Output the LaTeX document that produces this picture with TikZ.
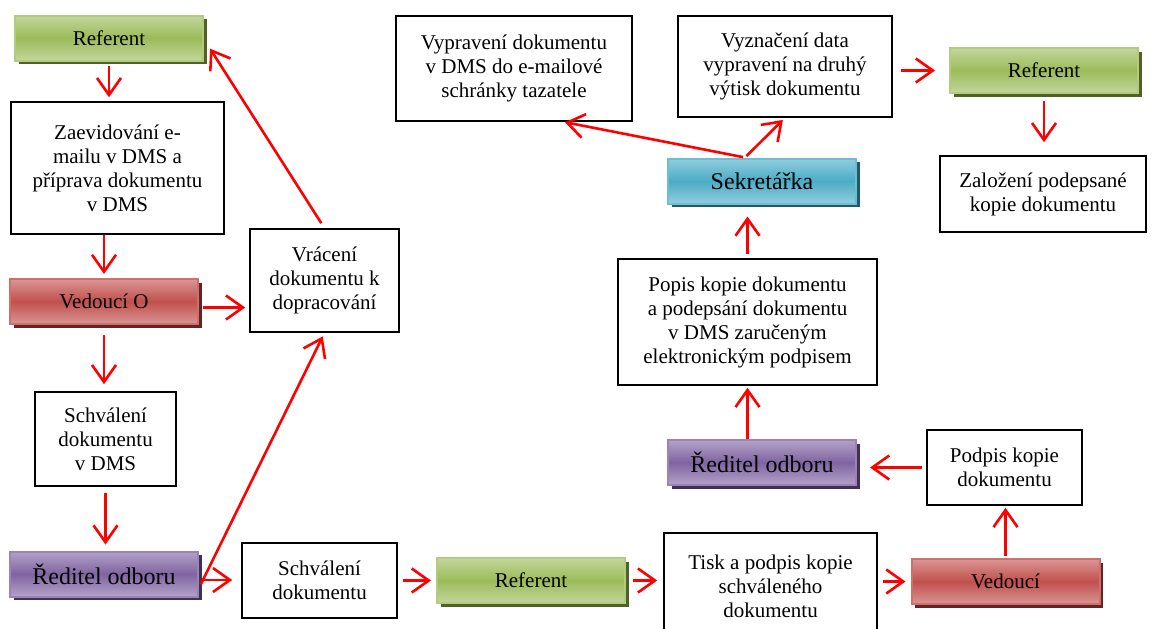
\documentclass[tikz,border=0pt]{standalone}
\usepackage{fontspec}
\setmainfont{Liberation Serif}
\usepackage{tikz}
\usetikzlibrary{arrows.meta}
\usetikzlibrary{shadows}

\definecolor{refmid}{HTML}{9BBB59}
\definecolor{reflight}{HTML}{C3D69B}
\definecolor{refedge}{HTML}{B2CB7F}
\definecolor{refdark}{HTML}{4F6228}
\definecolor{vedmid}{HTML}{C0504D}
\definecolor{vedlight}{HTML}{DA9694}
\definecolor{vededge}{HTML}{CD6F6C}
\definecolor{veddark}{HTML}{632523}
\definecolor{redmid}{HTML}{8064A2}
\definecolor{redlight}{HTML}{B3A2C7}
\definecolor{rededge}{HTML}{9A83B7}
\definecolor{reddark}{HTML}{403152}
\definecolor{sekmid}{HTML}{4BACC6}
\definecolor{seklight}{HTML}{92CDDC}
\definecolor{sekedge}{HTML}{6DBED3}
\definecolor{sekdark}{HTML}{215968}

\begin{document}
\begin{tikzpicture}[x=0.5pt,y=-0.5pt,
    role/.style={draw=#1edge,line width=1pt,top color=#1light,bottom color=#1light,
        middle color=#1mid,drop shadow={shadow xshift=1.8pt,shadow yshift=-1.8pt,fill=#1dark,opacity=1},
        minimum width=94pt,minimum height=22.5pt,inner sep=0pt,font=\fontsize{10.5}{12}\selectfont}]
            \tikzstyle{box}=[draw,line width=0.8pt,align=center,inner sep=1pt,font=\fontsize{10.5}{12}\selectfont]
            \tikzstyle{big}=[font=\fontsize{12}{14}\selectfont]
            \tikzstyle{flow}=[draw=red,line width=1.3pt,-{Straight Barb[length=8.5pt,width=12pt,line width=1.3pt]},shorten <=2pt,shorten >=2pt]
            \useasboundingbox (0,0) rectangle (1156,628);

            % left column
            \node[role=ref] (ref1) at (109,38) {Referent};
            \node[box,minimum width=106.5pt,minimum height=66pt] (zaev) at (117.5,168)
                {Zaevidování e-\\mailu v DMS a\\příprava dokumentu\\v DMS};
            \node[role=ved] (ved1) at (104,301.5) {Vedoucí O};
            \node[box,minimum width=74.5pt,minimum height=51.5pt] (vrac) at (324.5,280.5)
                {Vrácení\\dokumentu k\\dopracování};
            \node[box,minimum width=70.5pt,minimum height=47pt] (schv1) at (105.5,439)
                {Schválení\\dokumentu\\v DMS};
            \node[role=red,big] (red1) at (104,574) {Ředitel odboru};

            % bottom row
            \node[box,minimum width=77.5pt,minimum height=37.5pt] (schv2) at (319.5,580.5)
                {Schválení\\dokumentu};
            \node[role=ref] (ref2) at (531,580.5) {Referent};
            \node[box,minimum width=106.5pt,minimum height=53.5pt] (tisk) at (770.5,586.5)
                {Tisk a podpis kopie\\schváleného\\dokumentu};
            \node[role=ved] (ved2) at (1005.5,581.5) {Vedoucí};

            % right part
            \node[box,minimum width=77.5pt,minimum height=37.5pt] (podp) at (1004.5,467.5)
                {Podpis kopie\\dokumentu};
            \node[role=red,big] (red2) at (762,462.5) {Ředitel odboru};
            \node[box,minimum width=129.5pt,minimum height=63pt] (popis) at (747.5,322)
                {Popis kopie dokumentu\\a podepsání dokumentu\\v DMS zaručeným\\elektronickým podpisem};
            \node[role=sek,big] (sekr) at (762,181) {Sekretářka};
            \node[box,minimum width=118pt,minimum height=52.5pt] (vypr) at (514,68.5)
                {Vypravení dokumentu\\v DMS do e-mailové\\schránky tazatele};
            \node[box,minimum width=107pt,minimum height=50.5pt] (vyzn) at (785,66.5)
                {Vyznačení data\\vypravení na druhý\\výtisk dokumentu};
            \node[role=ref] (ref3) at (1044,70.5) {Referent};
            \node[box,minimum width=103pt,minimum height=38pt] (zal) at (1043,194)
                {Založení podepsané\\kopie dokumentu};

            \draw[flow] (ref1.south) -- (ref1.south |- zaev.north);
            \draw[flow,shorten <=0pt] (ved1.north |- zaev.south) -- (ved1.north);
            \draw[flow] ([yshift=-3pt]ved1.east) -- ([yshift=-3pt]ved1.east -| vrac.west);
            \draw[flow,shorten <=5pt,shorten >=3.5pt] (ved1.south) -- (ved1.south |- schv1.north);
            \draw[flow,shorten <=3pt,shorten >=3pt] (schv1.south) -- (schv1.south |- red1.north);
            \draw[flow,shorten >=4.5pt] ([yshift=-3pt]red1.east) -- ([yshift=-3pt]red1.east -| schv2.west);
            \draw[flow] ([yshift=-7pt]red1.east) -- (vrac.south);
            \draw[flow,shorten <=3pt,shorten >=1pt] (vrac.north) -- ([xshift=2.5pt,yshift=-4.5pt]ref1.east);
            \draw[flow,shorten <=2.5pt,shorten >=2.5pt] (schv2.east) -- (ref2.west);
            \draw[flow,shorten <=3.5pt,shorten >=3pt] (ref2.east) -- (ref2.east -| tisk.west);
            \draw[flow,shorten <=2.5pt,shorten >=2.5pt] (tisk.east |- ved2.west) -- (ved2.west);
            \draw[flow,shorten <=1pt,shorten >=1pt] (ved2.north) -- (ved2.north |- podp.south);
            \draw[flow,shorten >=6.5pt] (podp.west) -- (podp.west -| red2.east);
            \draw[flow,shorten <=0pt,shorten >=1pt] (popis.south |- red2.north) -- (popis.south);
            \draw[flow,shorten >=6pt] (popis.north) -- (popis.north |- sekr.south);
            \draw[flow,shorten <=1pt,shorten >=1pt] ([xshift=-8.5pt]sekr.north) -- ([xshift=24.5pt]vypr.south);
            \draw[flow,shorten <=1pt,shorten >=1.5pt] ([xshift=-8.5pt]sekr.north) -- (vyzn.south);
            \draw[flow,shorten <=4pt,shorten >=7pt] (vyzn.east |- ref3.west) -- (ref3.west);
            \draw[flow,shorten <=3.5pt,shorten >=6.5pt] (ref3.south) -- (ref3.south |- zal.north);
        \end{tikzpicture}
\end{document}
